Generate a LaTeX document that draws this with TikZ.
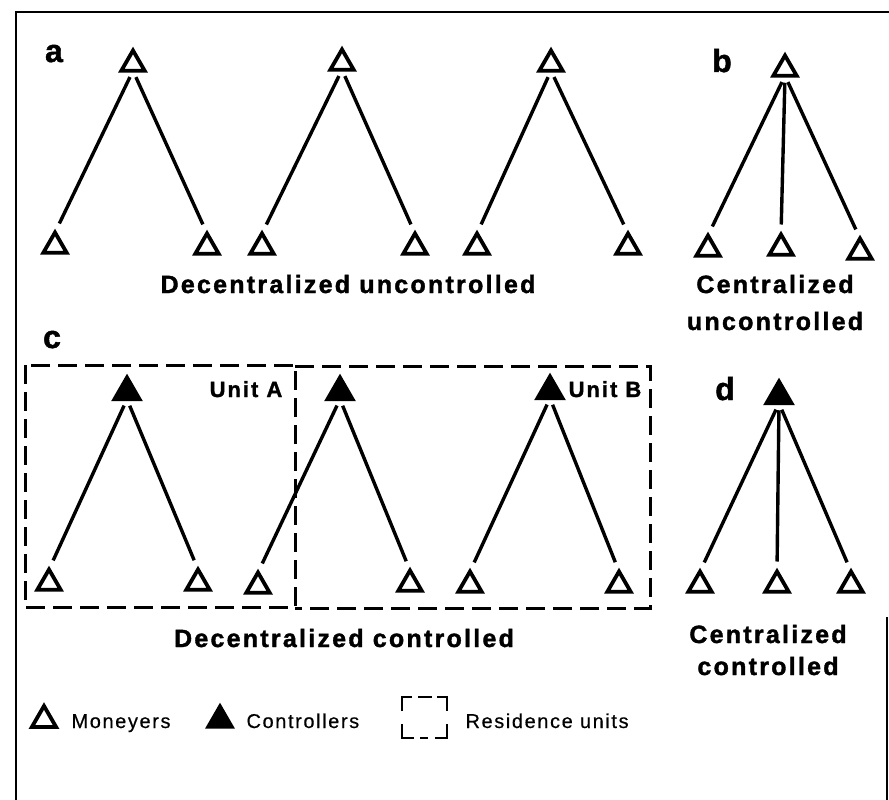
\documentclass[tikz,border=0pt]{standalone}
\usepackage{fontspec}
\setmainfont{Liberation Sans}[LetterSpace=9,BoldFeatures={FakeBold=1.5}]
\newfontfamily\legendfont{Liberation Sans}[LetterSpace=8,FakeBold=0.4]
\usetikzlibrary{shapes.geometric}

\begin{document}
\begin{tikzpicture}[x=1pt,y=-1pt,
        moneyer/.style={regular polygon,regular polygon sides=3,draw,line width=3.8pt,minimum size=27pt,inner sep=0pt,outer sep=0pt},
        controller/.style={moneyer,fill,minimum size=29pt},
        branch/.style={line width=3.4pt,shorten <=7pt,shorten >=10pt},
        unit/.style={line width=3pt,dash pattern=on 19pt off 8pt},
        keyline/.style={line width=2.8pt},
        frame/.style={line width=2.6pt},
        panel/.style={font=\fontsize{32}{32}\selectfont\bfseries,anchor=base},
        caption/.style={font=\fontsize{25}{25}\selectfont\bfseries,anchor=base},
        unitname/.style={font=\fontsize{22}{22}\selectfont\bfseries,anchor=base},
        key/.style={font=\legendfont\fontsize{20}{20}\selectfont,anchor=base west}]
        \useasboundingbox (0,0) rectangle (889,800);
        \draw[frame] (16,800) -- (16,12) -- (889,12);
        \draw[frame] (887,617) -- (887,800);

        \node[panel] (la) at (54,62) {a};
        \node[panel] (lb) at (722,72) {b};
        \node[panel] (lc) at (52,348) {c};
        \node[panel] (ld) at (725,400) {d};

        \node[moneyer] (a1t) at (133,64) {};
        \node[moneyer] (a1l) at (55,246) {};
        \node[moneyer] (a1r) at (207,247) {};
        \node[moneyer] (a2t) at (342,63) {};
        \node[moneyer] (a2l) at (262,247) {};
        \node[moneyer] (a2r) at (415,247) {};
        \node[moneyer] (a3t) at (551,64) {};
        \node[moneyer] (a3l) at (477,247) {};
        \node[moneyer] (a3r) at (628,247) {};
        \draw[branch] (a1t.side 2) -- (a1l.corner 1);
        \draw[branch] (a1t.side 2) -- (a1r.corner 1);
        \draw[branch] (a2t.side 2) -- (a2l.corner 1);
        \draw[branch] (a2t.side 2) -- (a2r.corner 1);
        \draw[branch] (a3t.side 2) -- (a3l.corner 1);
        \draw[branch] (a3t.side 2) -- (a3r.corner 1);
        \node[caption] (ca) at (348,293) {Decentralized uncontrolled};

        \node[moneyer] (bt) at (785,69) {};
        \node[moneyer] (bl) at (708,249) {};
        \node[moneyer] (bm) at (781,248) {};
        \node[moneyer] (br) at (860,252) {};
        \draw[branch] (bt.side 2) -- (bl.corner 1);
        \draw[branch] (bt.side 2) -- (bm.corner 1);
        \draw[branch] (bt.side 2) -- (br.corner 1);
        \node[caption] (cb1) at (775,293) {Centralized};
        \node[caption] (cb2) at (775,330) {uncontrolled};

        \draw[unit] (25,365) rectangle (295,607);
        \draw[unit] (295,366) -- (650,366) -- (650,608) -- (295,608);
        \node[unitname] (ua) at (246,397) {Unit A};
        \node[unitname] (ub) at (605,397) {Unit B};
        \node[controller] (c1t) at (127,392) {};
        \node[moneyer] (c1l) at (49,583) {};
        \node[moneyer] (c1r) at (198,583) {};
        \node[controller] (c2t) at (340,392) {};
        \node[moneyer] (c2l) at (258,586) {};
        \node[moneyer] (c2r) at (410,584) {};
        \node[controller] (c3t) at (550,391) {};
        \node[moneyer] (c3l) at (470,585) {};
        \node[moneyer] (c3r) at (619,585) {};
        \draw[branch] (c1t.side 2) -- (c1l.corner 1);
        \draw[branch] (c1t.side 2) -- (c1r.corner 1);
        \draw[branch] (c2t.side 2) -- (c2l.corner 1);
        \draw[branch] (c2t.side 2) -- (c2r.corner 1);
        \draw[branch] (c3t.side 2) -- (c3l.corner 1);
        \draw[branch] (c3t.side 2) -- (c3r.corner 1);
        \node[caption] (cc) at (344,647) {Decentralized controlled};

        \node[controller] (dt) at (779,396) {};
        \node[moneyer] (dl) at (700,585) {};
        \node[moneyer] (dm) at (777,585) {};
        \node[moneyer] (dr) at (851,585) {};
        \draw[branch] (dt.side 2) -- (dl.corner 1);
        \draw[branch] (dt.side 2) -- (dm.corner 1);
        \draw[branch] (dt.side 2) -- (dr.corner 1);
        \node[caption] (cd1) at (768,643) {Centralized};
        \node[caption] (cd2) at (768,675) {controlled};

        \node[moneyer,minimum size=28pt] (km) at (44,720) {};
        \node[key] (tm) at (68,728) {Moneyers};
        \node[controller,minimum size=27pt] (kc) at (220,720) {};
        \node[key] (tc) at (243,728) {Controllers};
        \draw[keyline] (402,711) -- (402,697) -- (412,697);
        \draw[keyline] (418,697) -- (432,697);
        \draw[keyline] (437,697) -- (447,697) -- (447,711);
        \draw[keyline] (402,724) -- (402,738) -- (414,738);
        \draw[keyline] (420,738) -- (428,738);
        \draw[keyline] (435,738) -- (447,738) -- (447,724);
        \node[key] (tr) at (462,728) {Residence units};
    \end{tikzpicture}
\end{document}
